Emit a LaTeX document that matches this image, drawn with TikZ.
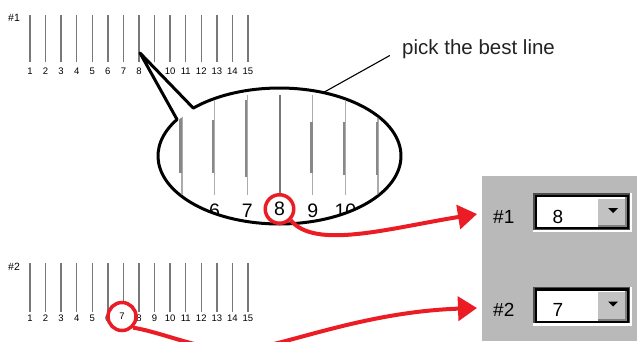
\documentclass[tikz,border=0pt]{standalone}
\usepackage{fontspec}
\setmainfont{Liberation Sans}
\usetikzlibrary{arrows.meta}

\definecolor{tickgray}{RGB}{120,120,120}
\definecolor{thingray}{RGB}{172,172,172}
\definecolor{thickgray}{RGB}{136,136,136}
\definecolor{markred}{RGB}{236,28,36}
\definecolor{panelgray}{RGB}{185,185,185}
\definecolor{btnface}{RGB}{194,194,194}
\definecolor{notegray}{RGB}{35,35,35}

\begin{document}
\begin{tikzpicture}[x=1pt, y=-1pt,
    every node/.style={inner sep=0pt},
    rowtick/.style={tickgray, line width=1.4pt},
    rownum/.style={font=\fontsize{9.5}{11}\selectfont, anchor=base},
    rowlabel/.style={font=\fontsize{10.5}{12}\selectfont, anchor=base west},
    bignum/.style={font=\fontsize{19.5}{22}\selectfont},
    thinline/.style={thingray, line width=1.4pt},
    thickline/.style={thickgray, line width=2.4pt},
    pickring/.style={circle, draw=markred, fill=white, line width=3.5pt},
    pickarrow/.style={markred, line width=4pt, -{Triangle[length=19pt, width=24pt]}},
    boxlabel/.style={font=\fontsize{19}{22}\selectfont, anchor=base west}]
  % Keep the page the size of the reference
  \useasboundingbox (0,0) rectangle (637,341);
  \clip (0,0) rectangle (637,341);

  % Row #1 of test lines
  \node[rowlabel] (row1) at (8,21) {\#1};
  \foreach \i in {1,...,15} {
    \draw[rowtick] (14.43+15.57*\i, 15) -- ++(0,47);
    \node[rownum] (a\i) at (14.43+15.57*\i, 74) {\i};
  }

  % Row #2 of test lines
  \node[rowlabel] (row2) at (8,270) {\#2};
  \foreach \i in {1,...,15} {
    \draw[rowtick] (14.43+15.57*\i, 263) -- ++(0,49);
    \node[rownum] (c\i) at (14.43+15.57*\i, 321.5) {\i};
  }

  % Callout with the magnified lines
  \coordinate (lens) at (279.5,156);
  \coordinate (ptr) at (140,53);
  \draw[line width=3pt, fill=white, line join=round]
    ([shift={(224.8:121.5 and 68)}]lens)
    arc[start angle=224.8, end angle=572.5, x radius=121.5, y radius=68]
    -- (ptr) -- cycle;
  \begin{scope}
    \clip (lens) ellipse[x radius=120, y radius=66.5];
    \foreach \i/\t/\b in {5/118/173, 6/120/173, 7/100/177, 9/122/173, 10/122/175, 11/122/175} {
      \draw[thinline] (18.4+32.7*\i, 95) -- ++(0,100);
      \draw[thickline] (17+32.7*\i, \t) -- (17+32.7*\i, \b);
    }
    \draw[tickgray, line width=1.8pt] (280,95) -- (280,193);
    \foreach \i in {6,7,9,10}
      \node[bignum, anchor=base] (b\i) at (18.4+32.7*\i, 217) {\i};
  \end{scope}

  % Leader to the note
  \coordinate (lead) at (323.5,92.5);
  \node[anchor=base west, font=\fontsize{20.5}{24}\selectfont, text=notegray] (note) at (402,54) {pick the best line};
  \draw[line width=1.1pt, shorten >=14pt] (lead) -- (note.west);

  % Chosen lines
  \node[pickring, minimum size=28.5pt, bignum] (sel1) at (279.5,209) {8};
  \node[pickring, minimum size=28pt, rownum, anchor=center] (sel2) at (122,316.5) {7};

  % Arrows to the boxes
  \coordinate (tip1) at (477,214);
  \coordinate (tip2) at (477,308);
  \draw[pickarrow] (sel1.-45) .. controls (315,250) and (390,228) .. (tip1);
  \draw[pickarrow] (sel2.-45) .. controls (165,333) and (205,352) .. (240,350)
    .. controls (280,348) and (360,312) .. (tip2);

  % Settings panel
  \fill[panelgray] (482,176) rectangle (637,341);
  \foreach \k/\dy/\val in {1/0/8, 2/93.5/7} {
    \begin{scope}[shift={(0,\dy)}]
      \node[boxlabel] (lab\k) at (493,223) {\#\k};
      \fill[white] (533,193) rectangle (632,232);
      \fill[black!70] (533,193) rectangle (629.5,229.5);
      \fill[black] (534.5,194.5) rectangle (629,229);
      \fill[white] (537,197) rectangle (627,227);
      \fill[btnface] (598,197) rectangle (627,227);
      \fill[white] (598,197) rectangle (627,198.5);
      \fill[black!50] (598,225) rectangle (627,227);
      \fill[black!50] (625,197) rectangle (627,227);
      \fill (608,208) -- (618,208) -- (613,213) -- cycle;
      \node[boxlabel, anchor=base] (val\k) at (558,223) {\val};
    \end{scope}
  }
\end{tikzpicture}
\end{document}
